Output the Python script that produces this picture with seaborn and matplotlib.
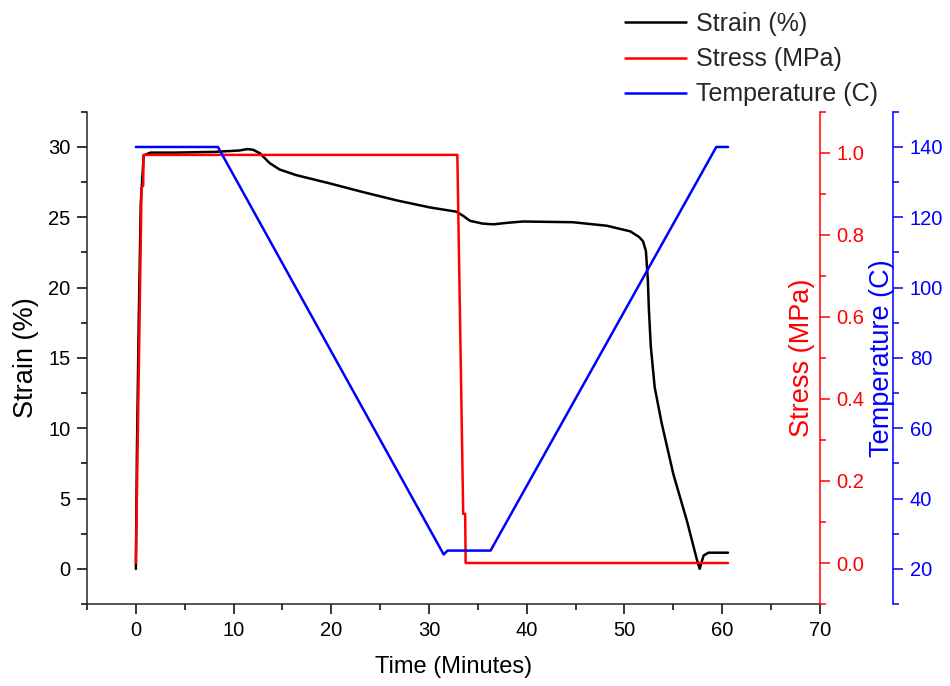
import numpy as np
import matplotlib
matplotlib.use('Agg')
import matplotlib.pyplot as plt
from matplotlib.ticker import MultipleLocator, FormatStrFormatter
import seaborn as sns

# ------------------------------------------------------------
# Data
# ------------------------------------------------------------
time_strain = [0, 0.1, 0.3, 0.5, 0.8, 1.5, 4, 8, 10.6, 11.4, 12.0, 12.7, 13.7,
               14.7, 16.4, 19.9, 23.2, 26.7, 30.1, 32.8, 33.5, 34.2, 35.5, 36.6,
               37.9, 39.6, 44.7, 48.2, 50.6, 51.5, 51.9, 52.2, 52.4, 52.5, 52.7,
               53.1, 53.8, 55.0, 56.4, 57.4, 57.7, 58.1, 58.6, 60.6]
strain = [0, 8, 18, 26, 29.4, 29.6, 29.6, 29.65, 29.75, 29.85, 29.8, 29.55, 28.85,
          28.4, 28.0, 27.4, 26.8, 26.2, 25.7, 25.4, 25.1, 24.75, 24.55, 24.5,
          24.6, 24.7, 24.65, 24.4, 24.0, 23.6, 23.3, 22.6, 20.5, 18.5, 15.8,
          12.9, 10.4, 6.75, 3.4, 0.7, 0.0, 0.95, 1.15, 1.15]

time_stress = [0, 0.58, 0.75, 0.78, 32.9, 33.5, 33.7, 33.75, 60.6]
stress = [0.0, 0.915, 0.92, 0.995, 0.995, 0.12, 0.12, 0.0, 0.0]

time_temp = [0, 8.4, 31.5, 31.9, 36.3, 59.4, 60.6]
temperature = [140, 140, 24.1, 25.2, 25.2, 140, 140]

LABELS = ['Strain (%)', 'Stress (MPa)', 'Temperature (C)']
COLORS = ['black', '#ff0000', '#0000ff']

# ------------------------------------------------------------
# Style
# ------------------------------------------------------------
sns.set_theme(style='ticks')
plt.rcParams['font.family'] = ['Liberation Sans', 'DejaVu Sans']
plt.rcParams['axes.linewidth'] = 1.1

fig = plt.figure(figsize=(9.5, 6.86), dpi=100)
ax = fig.add_axes([0.0916, 0.1195, 0.863 - 0.0916, 0.837 - 0.1195])
ax2 = ax.twinx()
ax3 = ax.twinx()

LW = 1.8
sns.lineplot(x=time_strain, y=strain, ax=ax, color=COLORS[0], lw=LW,
             sort=False, estimator=None, label=LABELS[0])
sns.lineplot(x=time_stress, y=stress, ax=ax2, color=COLORS[1], lw=LW,
             sort=False, estimator=None, label=LABELS[1])
sns.lineplot(x=time_temp, y=temperature, ax=ax3, color=COLORS[2], lw=LW,
             sort=False, estimator=None, label=LABELS[2])

handles = []
for a in (ax, ax2, ax3):
    h, _ = a.get_legend_handles_labels()
    handles += h
    if a.get_legend() is not None:
        a.get_legend().remove()

# ------------------------------------------------------------
# Axes limits / ticks
# ------------------------------------------------------------
ax.set_xlim(-5, 70)
ax.set_ylim(-2.5, 32.5)
ax2.set_ylim(-0.1, 1.1)
ax3.set_ylim(10, 150)

ax.xaxis.set_major_locator(MultipleLocator(10))
ax.xaxis.set_minor_locator(MultipleLocator(5))
ax.yaxis.set_major_locator(MultipleLocator(5))
ax.yaxis.set_minor_locator(MultipleLocator(2.5))
ax2.yaxis.set_major_locator(MultipleLocator(0.2))
ax2.yaxis.set_minor_locator(MultipleLocator(0.1))
ax2.yaxis.set_major_formatter(FormatStrFormatter('%.1f'))
ax3.yaxis.set_major_locator(MultipleLocator(20))
ax3.yaxis.set_minor_locator(MultipleLocator(10))

TICK_FS = 14.5
ax.tick_params(axis='both', which='major', length=7, width=1.1, pad=5,
               labelsize=TICK_FS, colors='black', direction='out')
ax.tick_params(axis='both', which='minor', length=4.5, width=1.1, colors='black',
               direction='out')
ax2.tick_params(axis='y', which='major', length=7, width=1.1, pad=5,
                labelsize=TICK_FS, colors=COLORS[1], direction='out')
ax2.tick_params(axis='y', which='minor', length=4.5, width=1.1,
                colors=COLORS[1], direction='out')
ax3.tick_params(axis='y', which='major', length=7, width=1.1, pad=5,
                labelsize=TICK_FS, colors=COLORS[2], direction='out')
ax3.tick_params(axis='y', which='minor', length=4.5, width=1.1,
                colors=COLORS[2], direction='out')

# spines
ax.spines['top'].set_visible(False)
ax.spines['right'].set_visible(False)
for s in ('top', 'left', 'bottom'):
    ax2.spines[s].set_visible(False)
    ax3.spines[s].set_visible(False)
ax2.spines['right'].set_color(COLORS[1])
ax3.spines['right'].set_position(('axes', 1.1))
ax3.spines['right'].set_color(COLORS[2])

# labels
XLABEL_FS = 17
YLABEL_FS = 19.5
ax.set_xlabel('Time (Minutes)', fontsize=XLABEL_FS, color='black')
ax.set_ylabel('Strain (%)', fontsize=YLABEL_FS, color='black')
ax2.set_ylabel('Stress (MPa)', fontsize=YLABEL_FS, color=COLORS[1], rotation=90)
ax3.set_ylabel('Temperature (C)', fontsize=YLABEL_FS, color=COLORS[2], rotation=90)
ax.xaxis.set_label_coords(0.5, -0.106)
ax.yaxis.set_label_coords(-0.066, 0.5)
ax2.yaxis.set_label_coords(0.958, 0.5)
ax3.yaxis.set_label_coords(1.067, 0.5)

# legend at top right of the figure
fig.legend(handles, LABELS, loc='upper left',
           bbox_to_anchor=(625 / 950, 1 - 12 / 686), frameon=False,
           fontsize=18, handlelength=2.45, handletextpad=0.38,
           labelspacing=0.45, borderpad=0, borderaxespad=0)

fig.savefig('out.png', dpi=100)
